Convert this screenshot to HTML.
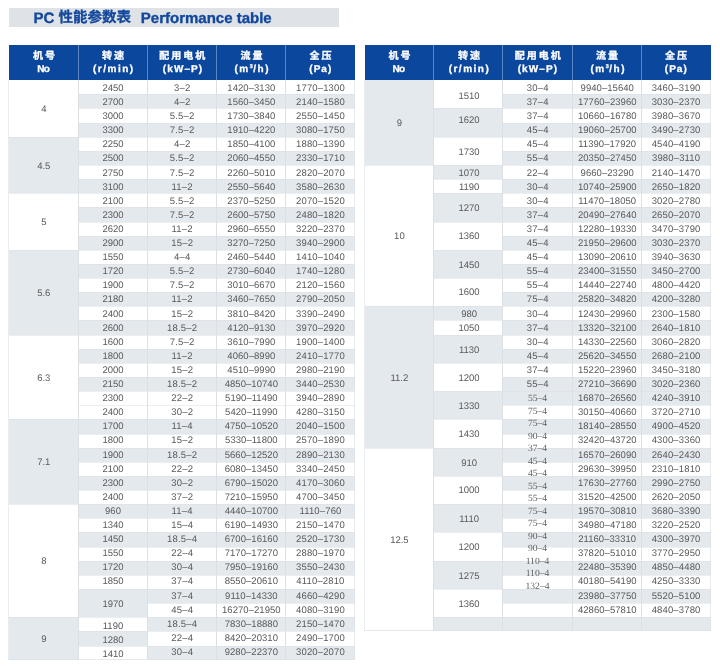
<!DOCTYPE html>
<html lang="en"><head><meta charset="utf-8"><title>PC Performance table</title>
<style>
html,body{margin:0;padding:0;background:#fff;}
body{width:720px;height:669px;position:relative;overflow:hidden;font-family:"Liberation Sans",sans-serif;}
#pg{position:absolute;left:0;top:0;width:720px;height:669px;will-change:transform;text-rendering:geometricPrecision;}
.b{position:absolute;}
.cj{position:absolute;overflow:visible;font-family:"Liberation Sans","Noto Sans CJK SC",sans-serif;}
.c{position:absolute;text-align:center;font-size:9.5px;color:#58595b;white-space:nowrap;}
.g{background:#e4e9ed;}
.w{background:#fff;}
.h{position:absolute;background:#0b479d;}
.ht{position:absolute;color:#fff;font-weight:bold;font-size:10px;-webkit-text-stroke:.3px #fff;text-align:center;white-space:nowrap;line-height:10px;}
.hc{text-align:left;letter-spacing:2px;}
.v{position:absolute;width:1px;background:#dce0e4;}
.hl{position:absolute;height:1px;background:#dce0e4;opacity:.55}
.s{position:absolute;font-family:"Liberation Serif",serif;font-size:9.6px;color:#5e5f61;text-align:center;white-space:nowrap;}
.t{position:absolute;color:#12479c;font-weight:bold;font-size:15px;-webkit-text-stroke:.35px #12479c;white-space:nowrap;line-height:18px;}
</style></head><body><div id="pg">

<div class="b" style="left:9px;top:8px;width:330px;height:19px;background:#dfe3e8"></div>
<div class="t" style="left:33.4px;top:10px">PC</div>
<div class="t cj" style="left:58.60px;top:8.8px;font-size:14.5px">性能参数表</div>
<div class="t" style="left:140.8px;top:10px">Performance table</div>
<div class="h" style="left:9px;top:45px;width:346px;height:35px"></div>
<div class="v" style="left:78px;top:45px;height:35px;background:#5c86c4"></div>
<div class="v" style="left:147px;top:45px;height:35px;background:#5c86c4"></div>
<div class="v" style="left:216px;top:45px;height:35px;background:#5c86c4"></div>
<div class="v" style="left:285px;top:45px;height:35px;background:#5c86c4"></div>
<div class="ht cj hc" style="left:32.90px;top:52.30px">机号</div>
<div class="ht" style="left:-6.5px;width:100px;top:64.6px;letter-spacing:-0.6px;text-indent:-0.6px">No</div>
<div class="ht cj hc" style="left:102.10px;top:52.30px">转速</div>
<div class="ht" style="left:63.1px;width:100px;top:64.6px;letter-spacing:1.5px;text-indent:1.5px">(r/min)</div>
<div class="ht cj hc" style="left:159.20px;top:52.30px">配用电机</div>
<div class="ht" style="left:132.5px;width:100px;top:64.6px;letter-spacing:1.1px;text-indent:1.1px">(kW–P)</div>
<div class="ht cj hc" style="left:240.40px;top:52.30px">流量</div>
<div class="ht" style="left:201.5px;width:100px;top:64.6px;letter-spacing:1.55px;text-indent:1.6px">(m<sup style="font-size:5.5px;line-height:0;vertical-align:4px;letter-spacing:.4px">3</sup>/h)</div>
<div class="ht cj hc" style="left:309.60px;top:52.30px">全压</div>
<div class="ht" style="left:270.3px;width:100px;top:64.6px;letter-spacing:1.0px;text-indent:1.0px">(Pa)</div>
<div class="b g" style="left:147px;top:94px;width:208px;height:14px"></div>
<div class="b g" style="left:147px;top:123px;width:208px;height:14px"></div>
<div class="b g" style="left:147px;top:151px;width:208px;height:14px"></div>
<div class="b g" style="left:147px;top:179px;width:208px;height:14px"></div>
<div class="b g" style="left:147px;top:207px;width:208px;height:15px"></div>
<div class="b g" style="left:147px;top:236px;width:208px;height:14px"></div>
<div class="b g" style="left:147px;top:264px;width:208px;height:14px"></div>
<div class="b g" style="left:147px;top:292px;width:208px;height:14px"></div>
<div class="b g" style="left:147px;top:320px;width:208px;height:15px"></div>
<div class="b g" style="left:147px;top:349px;width:208px;height:14px"></div>
<div class="b g" style="left:147px;top:377px;width:208px;height:14px"></div>
<div class="b g" style="left:147px;top:419px;width:208px;height:15px"></div>
<div class="b g" style="left:147px;top:448px;width:208px;height:14px"></div>
<div class="b g" style="left:147px;top:476px;width:208px;height:14px"></div>
<div class="b g" style="left:147px;top:504px;width:208px;height:14px"></div>
<div class="b g" style="left:147px;top:532px;width:208px;height:15px"></div>
<div class="b g" style="left:147px;top:561px;width:208px;height:14px"></div>
<div class="b g" style="left:147px;top:589px;width:208px;height:14px"></div>
<div class="b g" style="left:147px;top:617px;width:208px;height:14px"></div>
<div class="b g" style="left:147px;top:646px;width:208px;height:14px"></div>
<div class="c" style="left:3.80px;top:80px;width:80px;height:57px;line-height:60.6px">4</div>
<div class="c" style="left:73.00px;top:81px;width:80px;line-height:15px">2450</div>
<div class="c" style="left:142.20px;top:81px;width:80px;line-height:15px;letter-spacing:0.2px">3–2</div>
<div class="c" style="left:211.38px;top:81px;width:80px;line-height:15px;letter-spacing:0.05px">1420–3130</div>
<div class="c" style="left:280.47px;top:81px;width:80px;line-height:15px;letter-spacing:0.15px">1770–1300</div>
<div class="b g" style="left:78px;top:94px;width:69px;height:14px"></div>
<div class="c" style="left:73.00px;top:95px;width:80px;line-height:15px">2700</div>
<div class="c" style="left:142.20px;top:95px;width:80px;line-height:15px;letter-spacing:0.2px">4–2</div>
<div class="c" style="left:211.38px;top:95px;width:80px;line-height:15px;letter-spacing:0.05px">1560–3450</div>
<div class="c" style="left:280.47px;top:95px;width:80px;line-height:15px;letter-spacing:0.15px">2140–1580</div>
<div class="c" style="left:73.00px;top:109px;width:80px;line-height:15px">3000</div>
<div class="c" style="left:142.20px;top:109px;width:80px;line-height:15px;letter-spacing:0.2px">5.5–2</div>
<div class="c" style="left:211.38px;top:109px;width:80px;line-height:15px;letter-spacing:0.05px">1730–3840</div>
<div class="c" style="left:280.47px;top:109px;width:80px;line-height:15px;letter-spacing:0.15px">2550–1450</div>
<div class="b g" style="left:78px;top:123px;width:69px;height:14px"></div>
<div class="c" style="left:73.00px;top:123px;width:80px;line-height:15px">3300</div>
<div class="c" style="left:142.20px;top:123px;width:80px;line-height:15px;letter-spacing:0.2px">7.5–2</div>
<div class="c" style="left:211.38px;top:123px;width:80px;line-height:15px;letter-spacing:0.05px">1910–4220</div>
<div class="c" style="left:280.47px;top:123px;width:80px;line-height:15px;letter-spacing:0.15px">3080–1750</div>
<div class="b g" style="left:9px;top:137px;width:69px;height:56px"></div>
<div class="c" style="left:3.80px;top:137px;width:80px;height:56px;line-height:59.6px">4.5</div>
<div class="c" style="left:73.00px;top:137px;width:80px;line-height:15px">2250</div>
<div class="c" style="left:142.20px;top:137px;width:80px;line-height:15px;letter-spacing:0.2px">4–2</div>
<div class="c" style="left:211.38px;top:137px;width:80px;line-height:15px;letter-spacing:0.05px">1850–4100</div>
<div class="c" style="left:280.47px;top:137px;width:80px;line-height:15px;letter-spacing:0.15px">1880–1390</div>
<div class="b g" style="left:78px;top:151px;width:69px;height:14px"></div>
<div class="c" style="left:73.00px;top:151px;width:80px;line-height:15px">2500</div>
<div class="c" style="left:142.20px;top:151px;width:80px;line-height:15px;letter-spacing:0.2px">5.5–2</div>
<div class="c" style="left:211.38px;top:151px;width:80px;line-height:15px;letter-spacing:0.05px">2060–4550</div>
<div class="c" style="left:280.47px;top:151px;width:80px;line-height:15px;letter-spacing:0.15px">2330–1710</div>
<div class="c" style="left:73.00px;top:166px;width:80px;line-height:15px">2750</div>
<div class="c" style="left:142.20px;top:166px;width:80px;line-height:15px;letter-spacing:0.2px">7.5–2</div>
<div class="c" style="left:211.38px;top:166px;width:80px;line-height:15px;letter-spacing:0.05px">2260–5010</div>
<div class="c" style="left:280.47px;top:166px;width:80px;line-height:15px;letter-spacing:0.15px">2820–2070</div>
<div class="b g" style="left:78px;top:179px;width:69px;height:14px"></div>
<div class="c" style="left:73.00px;top:180px;width:80px;line-height:15px">3100</div>
<div class="c" style="left:142.20px;top:180px;width:80px;line-height:15px;letter-spacing:0.2px">11–2</div>
<div class="c" style="left:211.38px;top:180px;width:80px;line-height:15px;letter-spacing:0.05px">2550–5640</div>
<div class="c" style="left:280.47px;top:180px;width:80px;line-height:15px;letter-spacing:0.15px">3580–2630</div>
<div class="c" style="left:3.80px;top:193px;width:80px;height:57px;line-height:60.6px">5</div>
<div class="c" style="left:73.00px;top:194px;width:80px;line-height:15px">2100</div>
<div class="c" style="left:142.20px;top:194px;width:80px;line-height:15px;letter-spacing:0.2px">5.5–2</div>
<div class="c" style="left:211.38px;top:194px;width:80px;line-height:15px;letter-spacing:0.05px">2370–5250</div>
<div class="c" style="left:280.47px;top:194px;width:80px;line-height:15px;letter-spacing:0.15px">2070–1520</div>
<div class="b g" style="left:78px;top:207px;width:69px;height:15px"></div>
<div class="c" style="left:73.00px;top:208px;width:80px;line-height:15px">2300</div>
<div class="c" style="left:142.20px;top:208px;width:80px;line-height:15px;letter-spacing:0.2px">7.5–2</div>
<div class="c" style="left:211.38px;top:208px;width:80px;line-height:15px;letter-spacing:0.05px">2600–5750</div>
<div class="c" style="left:280.47px;top:208px;width:80px;line-height:15px;letter-spacing:0.15px">2480–1820</div>
<div class="c" style="left:73.00px;top:222px;width:80px;line-height:15px">2620</div>
<div class="c" style="left:142.20px;top:222px;width:80px;line-height:15px;letter-spacing:0.2px">11–2</div>
<div class="c" style="left:211.38px;top:222px;width:80px;line-height:15px;letter-spacing:0.05px">2960–6550</div>
<div class="c" style="left:280.47px;top:222px;width:80px;line-height:15px;letter-spacing:0.15px">3220–2370</div>
<div class="b g" style="left:78px;top:236px;width:69px;height:14px"></div>
<div class="c" style="left:73.00px;top:236px;width:80px;line-height:15px">2900</div>
<div class="c" style="left:142.20px;top:236px;width:80px;line-height:15px;letter-spacing:0.2px">15–2</div>
<div class="c" style="left:211.38px;top:236px;width:80px;line-height:15px;letter-spacing:0.05px">3270–7250</div>
<div class="c" style="left:280.47px;top:236px;width:80px;line-height:15px;letter-spacing:0.15px">3940–2900</div>
<div class="b g" style="left:9px;top:250px;width:69px;height:85px"></div>
<div class="c" style="left:3.80px;top:250px;width:80px;height:85px;line-height:88.6px">5.6</div>
<div class="c" style="left:73.00px;top:250px;width:80px;line-height:15px">1550</div>
<div class="c" style="left:142.20px;top:250px;width:80px;line-height:15px;letter-spacing:0.2px">4–4</div>
<div class="c" style="left:211.38px;top:250px;width:80px;line-height:15px;letter-spacing:0.05px">2460–5440</div>
<div class="c" style="left:280.47px;top:250px;width:80px;line-height:15px;letter-spacing:0.15px">1410–1040</div>
<div class="b g" style="left:78px;top:264px;width:69px;height:14px"></div>
<div class="c" style="left:73.00px;top:264px;width:80px;line-height:15px">1720</div>
<div class="c" style="left:142.20px;top:264px;width:80px;line-height:15px;letter-spacing:0.2px">5.5–2</div>
<div class="c" style="left:211.38px;top:264px;width:80px;line-height:15px;letter-spacing:0.05px">2730–6040</div>
<div class="c" style="left:280.47px;top:264px;width:80px;line-height:15px;letter-spacing:0.15px">1740–1280</div>
<div class="c" style="left:73.00px;top:278px;width:80px;line-height:15px">1900</div>
<div class="c" style="left:142.20px;top:278px;width:80px;line-height:15px;letter-spacing:0.2px">7.5–2</div>
<div class="c" style="left:211.38px;top:278px;width:80px;line-height:15px;letter-spacing:0.05px">3010–6670</div>
<div class="c" style="left:280.47px;top:278px;width:80px;line-height:15px;letter-spacing:0.15px">2120–1560</div>
<div class="b g" style="left:78px;top:292px;width:69px;height:14px"></div>
<div class="c" style="left:73.00px;top:292px;width:80px;line-height:15px">2180</div>
<div class="c" style="left:142.20px;top:292px;width:80px;line-height:15px;letter-spacing:0.2px">11–2</div>
<div class="c" style="left:211.38px;top:292px;width:80px;line-height:15px;letter-spacing:0.05px">3460–7650</div>
<div class="c" style="left:280.47px;top:292px;width:80px;line-height:15px;letter-spacing:0.15px">2790–2050</div>
<div class="c" style="left:73.00px;top:307px;width:80px;line-height:15px">2400</div>
<div class="c" style="left:142.20px;top:307px;width:80px;line-height:15px;letter-spacing:0.2px">15–2</div>
<div class="c" style="left:211.38px;top:307px;width:80px;line-height:15px;letter-spacing:0.05px">3810–8420</div>
<div class="c" style="left:280.47px;top:307px;width:80px;line-height:15px;letter-spacing:0.15px">3390–2490</div>
<div class="b g" style="left:78px;top:320px;width:69px;height:15px"></div>
<div class="c" style="left:73.00px;top:321px;width:80px;line-height:15px">2600</div>
<div class="c" style="left:142.20px;top:321px;width:80px;line-height:15px;letter-spacing:0.2px">18.5–2</div>
<div class="c" style="left:211.38px;top:321px;width:80px;line-height:15px;letter-spacing:0.05px">4120–9130</div>
<div class="c" style="left:280.47px;top:321px;width:80px;line-height:15px;letter-spacing:0.15px">3970–2920</div>
<div class="c" style="left:3.80px;top:335px;width:80px;height:84px;line-height:87.6px">6.3</div>
<div class="c" style="left:73.00px;top:335px;width:80px;line-height:15px">1600</div>
<div class="c" style="left:142.20px;top:335px;width:80px;line-height:15px;letter-spacing:0.2px">7.5–2</div>
<div class="c" style="left:211.38px;top:335px;width:80px;line-height:15px;letter-spacing:0.05px">3610–7990</div>
<div class="c" style="left:280.47px;top:335px;width:80px;line-height:15px;letter-spacing:0.15px">1900–1400</div>
<div class="b g" style="left:78px;top:349px;width:69px;height:14px"></div>
<div class="c" style="left:73.00px;top:349px;width:80px;line-height:15px">1800</div>
<div class="c" style="left:142.20px;top:349px;width:80px;line-height:15px;letter-spacing:0.2px">11–2</div>
<div class="c" style="left:211.38px;top:349px;width:80px;line-height:15px;letter-spacing:0.05px">4060–8990</div>
<div class="c" style="left:280.47px;top:349px;width:80px;line-height:15px;letter-spacing:0.15px">2410–1770</div>
<div class="c" style="left:73.00px;top:363px;width:80px;line-height:15px">2000</div>
<div class="c" style="left:142.20px;top:363px;width:80px;line-height:15px;letter-spacing:0.2px">15–2</div>
<div class="c" style="left:211.38px;top:363px;width:80px;line-height:15px;letter-spacing:0.05px">4510–9990</div>
<div class="c" style="left:280.47px;top:363px;width:80px;line-height:15px;letter-spacing:0.15px">2980–2190</div>
<div class="b g" style="left:78px;top:377px;width:69px;height:14px"></div>
<div class="c" style="left:73.00px;top:377px;width:80px;line-height:15px">2150</div>
<div class="c" style="left:142.20px;top:377px;width:80px;line-height:15px;letter-spacing:0.2px">18.5–2</div>
<div class="c" style="left:211.38px;top:377px;width:80px;line-height:15px;letter-spacing:0.05px">4850–10740</div>
<div class="c" style="left:280.47px;top:377px;width:80px;line-height:15px;letter-spacing:0.15px">3440–2530</div>
<div class="c" style="left:73.00px;top:391px;width:80px;line-height:15px">2300</div>
<div class="c" style="left:142.20px;top:391px;width:80px;line-height:15px;letter-spacing:0.2px">22–2</div>
<div class="c" style="left:211.38px;top:391px;width:80px;line-height:15px;letter-spacing:0.05px">5190–11490</div>
<div class="c" style="left:280.47px;top:391px;width:80px;line-height:15px;letter-spacing:0.15px">3940–2890</div>
<div class="c" style="left:73.00px;top:405px;width:80px;line-height:15px">2400</div>
<div class="c" style="left:142.20px;top:405px;width:80px;line-height:15px;letter-spacing:0.2px">30–2</div>
<div class="c" style="left:211.38px;top:405px;width:80px;line-height:15px;letter-spacing:0.05px">5420–11990</div>
<div class="c" style="left:280.47px;top:405px;width:80px;line-height:15px;letter-spacing:0.15px">4280–3150</div>
<div class="b g" style="left:9px;top:419px;width:69px;height:85px"></div>
<div class="c" style="left:3.80px;top:419px;width:80px;height:85px;line-height:88.6px">7.1</div>
<div class="b g" style="left:78px;top:419px;width:69px;height:15px"></div>
<div class="c" style="left:73.00px;top:419px;width:80px;line-height:15px">1700</div>
<div class="c" style="left:142.20px;top:419px;width:80px;line-height:15px;letter-spacing:0.2px">11–4</div>
<div class="c" style="left:211.38px;top:419px;width:80px;line-height:15px;letter-spacing:0.05px">4750–10520</div>
<div class="c" style="left:280.47px;top:419px;width:80px;line-height:15px;letter-spacing:0.15px">2040–1500</div>
<div class="c" style="left:73.00px;top:433px;width:80px;line-height:15px">1800</div>
<div class="c" style="left:142.20px;top:433px;width:80px;line-height:15px;letter-spacing:0.2px">15–2</div>
<div class="c" style="left:211.38px;top:433px;width:80px;line-height:15px;letter-spacing:0.05px">5330–11800</div>
<div class="c" style="left:280.47px;top:433px;width:80px;line-height:15px;letter-spacing:0.15px">2570–1890</div>
<div class="b g" style="left:78px;top:448px;width:69px;height:14px"></div>
<div class="c" style="left:73.00px;top:448px;width:80px;line-height:15px">1900</div>
<div class="c" style="left:142.20px;top:448px;width:80px;line-height:15px;letter-spacing:0.2px">18.5–2</div>
<div class="c" style="left:211.38px;top:448px;width:80px;line-height:15px;letter-spacing:0.05px">5660–12520</div>
<div class="c" style="left:280.47px;top:448px;width:80px;line-height:15px;letter-spacing:0.15px">2890–2130</div>
<div class="c" style="left:73.00px;top:462px;width:80px;line-height:15px">2100</div>
<div class="c" style="left:142.20px;top:462px;width:80px;line-height:15px;letter-spacing:0.2px">22–2</div>
<div class="c" style="left:211.38px;top:462px;width:80px;line-height:15px;letter-spacing:0.05px">6080–13450</div>
<div class="c" style="left:280.47px;top:462px;width:80px;line-height:15px;letter-spacing:0.15px">3340–2450</div>
<div class="b g" style="left:78px;top:476px;width:69px;height:14px"></div>
<div class="c" style="left:73.00px;top:476px;width:80px;line-height:15px">2300</div>
<div class="c" style="left:142.20px;top:476px;width:80px;line-height:15px;letter-spacing:0.2px">30–2</div>
<div class="c" style="left:211.38px;top:476px;width:80px;line-height:15px;letter-spacing:0.05px">6790–15020</div>
<div class="c" style="left:280.47px;top:476px;width:80px;line-height:15px;letter-spacing:0.15px">4170–3060</div>
<div class="c" style="left:73.00px;top:490px;width:80px;line-height:15px">2400</div>
<div class="c" style="left:142.20px;top:490px;width:80px;line-height:15px;letter-spacing:0.2px">37–2</div>
<div class="c" style="left:211.38px;top:490px;width:80px;line-height:15px;letter-spacing:0.05px">7210–15950</div>
<div class="c" style="left:280.47px;top:490px;width:80px;line-height:15px;letter-spacing:0.15px">4700–3450</div>
<div class="c" style="left:3.80px;top:504px;width:80px;height:113px;line-height:116.6px">8</div>
<div class="b g" style="left:78px;top:504px;width:69px;height:14px"></div>
<div class="c" style="left:73.00px;top:504px;width:80px;line-height:15px">960</div>
<div class="c" style="left:142.20px;top:504px;width:80px;line-height:15px;letter-spacing:0.2px">11–4</div>
<div class="c" style="left:211.38px;top:504px;width:80px;line-height:15px;letter-spacing:0.05px">4440–10700</div>
<div class="c" style="left:280.47px;top:504px;width:80px;line-height:15px;letter-spacing:0.15px">1110–760</div>
<div class="c" style="left:73.00px;top:518px;width:80px;line-height:15px">1340</div>
<div class="c" style="left:142.20px;top:518px;width:80px;line-height:15px;letter-spacing:0.2px">15–4</div>
<div class="c" style="left:211.38px;top:518px;width:80px;line-height:15px;letter-spacing:0.05px">6190–14930</div>
<div class="c" style="left:280.47px;top:518px;width:80px;line-height:15px;letter-spacing:0.15px">2150–1470</div>
<div class="b g" style="left:78px;top:532px;width:69px;height:15px"></div>
<div class="c" style="left:73.00px;top:532px;width:80px;line-height:15px">1450</div>
<div class="c" style="left:142.20px;top:532px;width:80px;line-height:15px;letter-spacing:0.2px">18.5–4</div>
<div class="c" style="left:211.38px;top:532px;width:80px;line-height:15px;letter-spacing:0.05px">6700–16160</div>
<div class="c" style="left:280.47px;top:532px;width:80px;line-height:15px;letter-spacing:0.15px">2520–1730</div>
<div class="c" style="left:73.00px;top:546px;width:80px;line-height:15px">1550</div>
<div class="c" style="left:142.20px;top:546px;width:80px;line-height:15px;letter-spacing:0.2px">22–4</div>
<div class="c" style="left:211.38px;top:546px;width:80px;line-height:15px;letter-spacing:0.05px">7170–17270</div>
<div class="c" style="left:280.47px;top:546px;width:80px;line-height:15px;letter-spacing:0.15px">2880–1970</div>
<div class="b g" style="left:78px;top:561px;width:69px;height:14px"></div>
<div class="c" style="left:73.00px;top:560px;width:80px;line-height:15px">1720</div>
<div class="c" style="left:142.20px;top:560px;width:80px;line-height:15px;letter-spacing:0.2px">30–4</div>
<div class="c" style="left:211.38px;top:560px;width:80px;line-height:15px;letter-spacing:0.05px">7950–19160</div>
<div class="c" style="left:280.47px;top:560px;width:80px;line-height:15px;letter-spacing:0.15px">3550–2430</div>
<div class="c" style="left:73.00px;top:574px;width:80px;line-height:15px">1850</div>
<div class="c" style="left:142.20px;top:574px;width:80px;line-height:15px;letter-spacing:0.2px">37–4</div>
<div class="c" style="left:211.38px;top:574px;width:80px;line-height:15px;letter-spacing:0.05px">8550–20610</div>
<div class="c" style="left:280.47px;top:574px;width:80px;line-height:15px;letter-spacing:0.15px">4110–2810</div>
<div class="b g" style="left:78px;top:589px;width:69px;height:28px"></div>
<div class="c" style="left:73.00px;top:597px;width:80px;line-height:15px">1970</div>
<div class="c" style="left:142.20px;top:589px;width:80px;line-height:15px;letter-spacing:0.2px">37–4</div>
<div class="c" style="left:211.38px;top:589px;width:80px;line-height:15px;letter-spacing:0.05px">9110–14330</div>
<div class="c" style="left:280.47px;top:589px;width:80px;line-height:15px;letter-spacing:0.15px">4660–4290</div>
<div class="c" style="left:142.20px;top:603px;width:80px;line-height:15px;letter-spacing:0.2px">45–4</div>
<div class="c" style="left:211.38px;top:603px;width:80px;line-height:15px;letter-spacing:0.05px">16270–21950</div>
<div class="c" style="left:280.47px;top:603px;width:80px;line-height:15px;letter-spacing:0.15px">4080–3190</div>
<div class="b g" style="left:9px;top:617px;width:69px;height:43px"></div>
<div class="c" style="left:3.80px;top:617px;width:80px;height:43px;line-height:46.6px">9</div>
<div class="c" style="left:73.00px;top:619px;width:80px;line-height:15px">1190</div>
<div class="c" style="left:142.20px;top:617px;width:80px;line-height:15px;letter-spacing:0.2px">18.5–4</div>
<div class="c" style="left:211.38px;top:617px;width:80px;line-height:15px;letter-spacing:0.05px">7830–18880</div>
<div class="c" style="left:280.47px;top:617px;width:80px;line-height:15px;letter-spacing:0.15px">2150–1470</div>
<div class="b g" style="left:78px;top:631px;width:69px;height:15px"></div>
<div class="c" style="left:73.00px;top:633px;width:80px;line-height:15px">1280</div>
<div class="c" style="left:142.20px;top:631px;width:80px;line-height:15px;letter-spacing:0.2px">22–4</div>
<div class="c" style="left:211.38px;top:631px;width:80px;line-height:15px;letter-spacing:0.05px">8420–20310</div>
<div class="c" style="left:280.47px;top:631px;width:80px;line-height:15px;letter-spacing:0.15px">2490–1700</div>
<div class="c" style="left:73.00px;top:647px;width:80px;line-height:15px">1410</div>
<div class="c" style="left:142.20px;top:645px;width:80px;line-height:15px;letter-spacing:0.2px">30–4</div>
<div class="c" style="left:211.38px;top:645px;width:80px;line-height:15px;letter-spacing:0.05px">9280–22370</div>
<div class="c" style="left:280.47px;top:645px;width:80px;line-height:15px;letter-spacing:0.15px">3020–2070</div>
<div class="hl" style="left:147px;top:94px;width:208px"></div>
<div class="hl" style="left:147px;top:108px;width:208px"></div>
<div class="hl" style="left:147px;top:123px;width:208px"></div>
<div class="hl" style="left:147px;top:137px;width:208px"></div>
<div class="hl" style="left:147px;top:151px;width:208px"></div>
<div class="hl" style="left:147px;top:165px;width:208px"></div>
<div class="hl" style="left:147px;top:179px;width:208px"></div>
<div class="hl" style="left:147px;top:193px;width:208px"></div>
<div class="hl" style="left:147px;top:207px;width:208px"></div>
<div class="hl" style="left:147px;top:222px;width:208px"></div>
<div class="hl" style="left:147px;top:236px;width:208px"></div>
<div class="hl" style="left:147px;top:250px;width:208px"></div>
<div class="hl" style="left:147px;top:264px;width:208px"></div>
<div class="hl" style="left:147px;top:278px;width:208px"></div>
<div class="hl" style="left:147px;top:292px;width:208px"></div>
<div class="hl" style="left:147px;top:306px;width:208px"></div>
<div class="hl" style="left:147px;top:320px;width:208px"></div>
<div class="hl" style="left:147px;top:335px;width:208px"></div>
<div class="hl" style="left:147px;top:349px;width:208px"></div>
<div class="hl" style="left:147px;top:363px;width:208px"></div>
<div class="hl" style="left:147px;top:377px;width:208px"></div>
<div class="hl" style="left:147px;top:391px;width:208px"></div>
<div class="hl" style="left:147px;top:405px;width:208px"></div>
<div class="hl" style="left:147px;top:419px;width:208px"></div>
<div class="hl" style="left:147px;top:434px;width:208px"></div>
<div class="hl" style="left:147px;top:448px;width:208px"></div>
<div class="hl" style="left:147px;top:462px;width:208px"></div>
<div class="hl" style="left:147px;top:476px;width:208px"></div>
<div class="hl" style="left:147px;top:490px;width:208px"></div>
<div class="hl" style="left:147px;top:504px;width:208px"></div>
<div class="hl" style="left:147px;top:518px;width:208px"></div>
<div class="hl" style="left:147px;top:532px;width:208px"></div>
<div class="hl" style="left:147px;top:547px;width:208px"></div>
<div class="hl" style="left:147px;top:561px;width:208px"></div>
<div class="hl" style="left:147px;top:575px;width:208px"></div>
<div class="hl" style="left:147px;top:589px;width:208px"></div>
<div class="hl" style="left:147px;top:603px;width:208px"></div>
<div class="hl" style="left:147px;top:617px;width:208px"></div>
<div class="hl" style="left:147px;top:631px;width:208px"></div>
<div class="hl" style="left:147px;top:646px;width:208px"></div>
<div class="hl" style="left:78px;top:94px;width:69px"></div>
<div class="hl" style="left:78px;top:108px;width:69px"></div>
<div class="hl" style="left:78px;top:123px;width:69px"></div>
<div class="hl" style="left:78px;top:137px;width:69px"></div>
<div class="hl" style="left:78px;top:151px;width:69px"></div>
<div class="hl" style="left:78px;top:165px;width:69px"></div>
<div class="hl" style="left:78px;top:179px;width:69px"></div>
<div class="hl" style="left:78px;top:193px;width:69px"></div>
<div class="hl" style="left:78px;top:207px;width:69px"></div>
<div class="hl" style="left:78px;top:222px;width:69px"></div>
<div class="hl" style="left:78px;top:236px;width:69px"></div>
<div class="hl" style="left:78px;top:250px;width:69px"></div>
<div class="hl" style="left:78px;top:264px;width:69px"></div>
<div class="hl" style="left:78px;top:278px;width:69px"></div>
<div class="hl" style="left:78px;top:292px;width:69px"></div>
<div class="hl" style="left:78px;top:306px;width:69px"></div>
<div class="hl" style="left:78px;top:320px;width:69px"></div>
<div class="hl" style="left:78px;top:335px;width:69px"></div>
<div class="hl" style="left:78px;top:349px;width:69px"></div>
<div class="hl" style="left:78px;top:363px;width:69px"></div>
<div class="hl" style="left:78px;top:377px;width:69px"></div>
<div class="hl" style="left:78px;top:391px;width:69px"></div>
<div class="hl" style="left:78px;top:405px;width:69px"></div>
<div class="hl" style="left:78px;top:419px;width:69px"></div>
<div class="hl" style="left:78px;top:434px;width:69px"></div>
<div class="hl" style="left:78px;top:448px;width:69px"></div>
<div class="hl" style="left:78px;top:462px;width:69px"></div>
<div class="hl" style="left:78px;top:476px;width:69px"></div>
<div class="hl" style="left:78px;top:490px;width:69px"></div>
<div class="hl" style="left:78px;top:504px;width:69px"></div>
<div class="hl" style="left:78px;top:518px;width:69px"></div>
<div class="hl" style="left:78px;top:532px;width:69px"></div>
<div class="hl" style="left:78px;top:547px;width:69px"></div>
<div class="hl" style="left:78px;top:561px;width:69px"></div>
<div class="hl" style="left:78px;top:575px;width:69px"></div>
<div class="hl" style="left:78px;top:589px;width:69px"></div>
<div class="hl" style="left:78px;top:617px;width:69px"></div>
<div class="hl" style="left:78px;top:631px;width:69px"></div>
<div class="hl" style="left:78px;top:646px;width:69px"></div>
<div class="hl" style="left:9px;top:137px;width:69px"></div>
<div class="hl" style="left:9px;top:193px;width:69px"></div>
<div class="hl" style="left:9px;top:250px;width:69px"></div>
<div class="hl" style="left:9px;top:335px;width:69px"></div>
<div class="hl" style="left:9px;top:419px;width:69px"></div>
<div class="hl" style="left:9px;top:504px;width:69px"></div>
<div class="hl" style="left:9px;top:617px;width:69px"></div>
<div class="hl" style="left:9px;top:659px;width:346px;opacity:.7"></div>
<div class="v" style="left:78px;top:80px;height:580px"></div>
<div class="v" style="left:147px;top:80px;height:580px"></div>
<div class="v" style="left:216px;top:80px;height:580px"></div>
<div class="v" style="left:285px;top:80px;height:580px"></div>
<div class="v" style="left:8px;top:80px;height:580px;opacity:.6"></div>
<div class="v" style="left:354px;top:80px;height:580px;opacity:.6"></div>
<div class="h" style="left:365px;top:45px;width:346px;height:35px"></div>
<div class="v" style="left:433px;top:45px;height:35px;background:#5c86c4"></div>
<div class="v" style="left:502px;top:45px;height:35px;background:#5c86c4"></div>
<div class="v" style="left:572px;top:45px;height:35px;background:#5c86c4"></div>
<div class="v" style="left:641px;top:45px;height:35px;background:#5c86c4"></div>
<div class="ht cj hc" style="left:388.50px;top:52.30px">机号</div>
<div class="ht" style="left:348.8px;width:100px;top:64.6px;letter-spacing:-0.6px;text-indent:-0.6px">No</div>
<div class="ht cj hc" style="left:458.00px;top:52.30px">转速</div>
<div class="ht" style="left:418.7px;width:100px;top:64.6px;letter-spacing:1.5px;text-indent:1.5px">(r/min)</div>
<div class="ht cj hc" style="left:514.80px;top:52.30px">配用电机</div>
<div class="ht" style="left:487.4px;width:100px;top:64.6px;letter-spacing:1.1px;text-indent:1.1px">(kW–P)</div>
<div class="ht cj hc" style="left:596.00px;top:52.30px">流量</div>
<div class="ht" style="left:557.5px;width:100px;top:64.6px;letter-spacing:1.55px;text-indent:1.6px">(m<sup style="font-size:5.5px;line-height:0;vertical-align:4px;letter-spacing:.4px">3</sup>/h)</div>
<div class="ht cj hc" style="left:665.10px;top:52.30px">全压</div>
<div class="ht" style="left:625.8px;width:100px;top:64.6px;letter-spacing:1.0px;text-indent:1.0px">(Pa)</div>
<div class="b g" style="left:502px;top:94px;width:209px;height:14px"></div>
<div class="b g" style="left:502px;top:123px;width:209px;height:14px"></div>
<div class="b g" style="left:502px;top:151px;width:209px;height:14px"></div>
<div class="b g" style="left:502px;top:179px;width:209px;height:14px"></div>
<div class="b g" style="left:502px;top:207px;width:209px;height:15px"></div>
<div class="b g" style="left:502px;top:236px;width:209px;height:14px"></div>
<div class="b g" style="left:502px;top:264px;width:209px;height:14px"></div>
<div class="b g" style="left:502px;top:292px;width:209px;height:14px"></div>
<div class="b g" style="left:502px;top:320px;width:209px;height:15px"></div>
<div class="b g" style="left:502px;top:349px;width:209px;height:14px"></div>
<div class="b g" style="left:502px;top:377px;width:209px;height:14px"></div>
<div class="b g" style="left:502px;top:391px;width:209px;height:14px"></div>
<div class="b g" style="left:502px;top:419px;width:209px;height:15px"></div>
<div class="b g" style="left:502px;top:448px;width:209px;height:14px"></div>
<div class="b g" style="left:502px;top:476px;width:209px;height:14px"></div>
<div class="b g" style="left:502px;top:504px;width:209px;height:14px"></div>
<div class="b g" style="left:502px;top:532px;width:209px;height:15px"></div>
<div class="b g" style="left:502px;top:561px;width:209px;height:14px"></div>
<div class="b g" style="left:502px;top:589px;width:209px;height:14px"></div>
<div class="b g" style="left:502px;top:617px;width:209px;height:14px"></div>
<div class="b g" style="left:365px;top:80px;width:68px;height:85px"></div>
<div class="c" style="left:359.40px;top:80px;width:80px;height:85px;line-height:88.6px">9</div>
<div class="c" style="left:429.10px;top:89px;width:80px;line-height:15px">1510</div>
<div class="c" style="left:497.80px;top:81px;width:80px;line-height:15px;letter-spacing:0.2px">30–4</div>
<div class="c" style="left:567.23px;top:81px;width:80px;line-height:15px;letter-spacing:0.05px">9940–15640</div>
<div class="c" style="left:636.08px;top:81px;width:80px;line-height:15px;letter-spacing:0.15px">3460–3190</div>
<div class="c" style="left:497.80px;top:95px;width:80px;line-height:15px;letter-spacing:0.2px">37–4</div>
<div class="c" style="left:567.23px;top:95px;width:80px;line-height:15px;letter-spacing:0.05px">17760–23960</div>
<div class="c" style="left:636.08px;top:95px;width:80px;line-height:15px;letter-spacing:0.15px">3030–2370</div>
<div class="b g" style="left:433px;top:108px;width:69px;height:29px"></div>
<div class="c" style="left:429.10px;top:113px;width:80px;line-height:15px">1620</div>
<div class="c" style="left:497.80px;top:109px;width:80px;line-height:15px;letter-spacing:0.2px">37–4</div>
<div class="c" style="left:567.23px;top:109px;width:80px;line-height:15px;letter-spacing:0.05px">10660–16780</div>
<div class="c" style="left:636.08px;top:109px;width:80px;line-height:15px;letter-spacing:0.15px">3980–3670</div>
<div class="c" style="left:497.80px;top:123px;width:80px;line-height:15px;letter-spacing:0.2px">45–4</div>
<div class="c" style="left:567.23px;top:123px;width:80px;line-height:15px;letter-spacing:0.05px">19060–25700</div>
<div class="c" style="left:636.08px;top:123px;width:80px;line-height:15px;letter-spacing:0.15px">3490–2730</div>
<div class="c" style="left:429.10px;top:145px;width:80px;line-height:15px">1730</div>
<div class="c" style="left:497.80px;top:137px;width:80px;line-height:15px;letter-spacing:0.2px">45–4</div>
<div class="c" style="left:567.23px;top:137px;width:80px;line-height:15px;letter-spacing:0.05px">11390–17920</div>
<div class="c" style="left:636.08px;top:137px;width:80px;line-height:15px;letter-spacing:0.15px">4540–4190</div>
<div class="c" style="left:497.80px;top:151px;width:80px;line-height:15px;letter-spacing:0.2px">55–4</div>
<div class="c" style="left:567.23px;top:151px;width:80px;line-height:15px;letter-spacing:0.05px">20350–27450</div>
<div class="c" style="left:636.08px;top:151px;width:80px;line-height:15px;letter-spacing:0.15px">3980–3110</div>
<div class="c" style="left:359.40px;top:165px;width:80px;height:141px;line-height:144.6px">10</div>
<div class="b g" style="left:433px;top:165px;width:69px;height:14px"></div>
<div class="c" style="left:429.10px;top:166px;width:80px;line-height:15px">1070</div>
<div class="c" style="left:497.80px;top:166px;width:80px;line-height:15px;letter-spacing:0.2px">22–4</div>
<div class="c" style="left:567.23px;top:166px;width:80px;line-height:15px;letter-spacing:0.05px">9660–23290</div>
<div class="c" style="left:636.08px;top:166px;width:80px;line-height:15px;letter-spacing:0.15px">2140–1470</div>
<div class="c" style="left:429.10px;top:180px;width:80px;line-height:15px">1190</div>
<div class="c" style="left:497.80px;top:180px;width:80px;line-height:15px;letter-spacing:0.2px">30–4</div>
<div class="c" style="left:567.23px;top:180px;width:80px;line-height:15px;letter-spacing:0.05px">10740–25900</div>
<div class="c" style="left:636.08px;top:180px;width:80px;line-height:15px;letter-spacing:0.15px">2650–1820</div>
<div class="b g" style="left:433px;top:193px;width:69px;height:29px"></div>
<div class="c" style="left:429.10px;top:201px;width:80px;line-height:15px">1270</div>
<div class="c" style="left:497.80px;top:194px;width:80px;line-height:15px;letter-spacing:0.2px">30–4</div>
<div class="c" style="left:567.23px;top:194px;width:80px;line-height:15px;letter-spacing:0.05px">11470–18050</div>
<div class="c" style="left:636.08px;top:194px;width:80px;line-height:15px;letter-spacing:0.15px">3020–2780</div>
<div class="c" style="left:497.80px;top:208px;width:80px;line-height:15px;letter-spacing:0.2px">37–4</div>
<div class="c" style="left:567.23px;top:208px;width:80px;line-height:15px;letter-spacing:0.05px">20490–27640</div>
<div class="c" style="left:636.08px;top:208px;width:80px;line-height:15px;letter-spacing:0.15px">2650–2070</div>
<div class="c" style="left:429.10px;top:229px;width:80px;line-height:15px">1360</div>
<div class="c" style="left:497.80px;top:222px;width:80px;line-height:15px;letter-spacing:0.2px">37–4</div>
<div class="c" style="left:567.23px;top:222px;width:80px;line-height:15px;letter-spacing:0.05px">12280–19330</div>
<div class="c" style="left:636.08px;top:222px;width:80px;line-height:15px;letter-spacing:0.15px">3470–3790</div>
<div class="c" style="left:497.80px;top:236px;width:80px;line-height:15px;letter-spacing:0.2px">45–4</div>
<div class="c" style="left:567.23px;top:236px;width:80px;line-height:15px;letter-spacing:0.05px">21950–29600</div>
<div class="c" style="left:636.08px;top:236px;width:80px;line-height:15px;letter-spacing:0.15px">3030–2370</div>
<div class="b g" style="left:433px;top:250px;width:69px;height:28px"></div>
<div class="c" style="left:429.10px;top:258px;width:80px;line-height:15px">1450</div>
<div class="c" style="left:497.80px;top:250px;width:80px;line-height:15px;letter-spacing:0.2px">45–4</div>
<div class="c" style="left:567.23px;top:250px;width:80px;line-height:15px;letter-spacing:0.05px">13090–20610</div>
<div class="c" style="left:636.08px;top:250px;width:80px;line-height:15px;letter-spacing:0.15px">3940–3630</div>
<div class="c" style="left:497.80px;top:264px;width:80px;line-height:15px;letter-spacing:0.2px">55–4</div>
<div class="c" style="left:567.23px;top:264px;width:80px;line-height:15px;letter-spacing:0.05px">23400–31550</div>
<div class="c" style="left:636.08px;top:264px;width:80px;line-height:15px;letter-spacing:0.15px">3450–2700</div>
<div class="c" style="left:429.10px;top:285px;width:80px;line-height:15px">1600</div>
<div class="c" style="left:497.80px;top:278px;width:80px;line-height:15px;letter-spacing:0.2px">55–4</div>
<div class="c" style="left:567.23px;top:278px;width:80px;line-height:15px;letter-spacing:0.05px">14440–22740</div>
<div class="c" style="left:636.08px;top:278px;width:80px;line-height:15px;letter-spacing:0.15px">4800–4420</div>
<div class="c" style="left:497.80px;top:292px;width:80px;line-height:15px;letter-spacing:0.2px">75–4</div>
<div class="c" style="left:567.23px;top:292px;width:80px;line-height:15px;letter-spacing:0.05px">25820–34820</div>
<div class="c" style="left:636.08px;top:292px;width:80px;line-height:15px;letter-spacing:0.15px">4200–3280</div>
<div class="b g" style="left:365px;top:306px;width:68px;height:142px"></div>
<div class="c" style="left:359.40px;top:306px;width:80px;height:142px;line-height:145.6px">11.2</div>
<div class="b g" style="left:433px;top:306px;width:69px;height:14px"></div>
<div class="c" style="left:429.10px;top:307px;width:80px;line-height:15px">980</div>
<div class="c" style="left:497.80px;top:307px;width:80px;line-height:15px;letter-spacing:0.2px">30–4</div>
<div class="c" style="left:567.23px;top:307px;width:80px;line-height:15px;letter-spacing:0.05px">12430–29960</div>
<div class="c" style="left:636.08px;top:307px;width:80px;line-height:15px;letter-spacing:0.15px">2300–1580</div>
<div class="c" style="left:429.10px;top:321px;width:80px;line-height:15px">1050</div>
<div class="c" style="left:497.80px;top:321px;width:80px;line-height:15px;letter-spacing:0.2px">37–4</div>
<div class="c" style="left:567.23px;top:321px;width:80px;line-height:15px;letter-spacing:0.05px">13320–32100</div>
<div class="c" style="left:636.08px;top:321px;width:80px;line-height:15px;letter-spacing:0.15px">2640–1810</div>
<div class="b g" style="left:433px;top:335px;width:69px;height:28px"></div>
<div class="c" style="left:429.10px;top:343px;width:80px;line-height:15px">1130</div>
<div class="c" style="left:497.80px;top:335px;width:80px;line-height:15px;letter-spacing:0.2px">30–4</div>
<div class="c" style="left:567.23px;top:335px;width:80px;line-height:15px;letter-spacing:0.05px">14330–22560</div>
<div class="c" style="left:636.08px;top:335px;width:80px;line-height:15px;letter-spacing:0.15px">3060–2820</div>
<div class="c" style="left:497.80px;top:349px;width:80px;line-height:15px;letter-spacing:0.2px">45–4</div>
<div class="c" style="left:567.23px;top:349px;width:80px;line-height:15px;letter-spacing:0.05px">25620–34550</div>
<div class="c" style="left:636.08px;top:349px;width:80px;line-height:15px;letter-spacing:0.15px">2680–2100</div>
<div class="c" style="left:429.10px;top:371px;width:80px;line-height:15px">1200</div>
<div class="c" style="left:497.80px;top:363px;width:80px;line-height:15px;letter-spacing:0.2px">37–4</div>
<div class="c" style="left:567.23px;top:363px;width:80px;line-height:15px;letter-spacing:0.05px">15220–23960</div>
<div class="c" style="left:636.08px;top:363px;width:80px;line-height:15px;letter-spacing:0.15px">3450–3180</div>
<div class="c" style="left:497.80px;top:377px;width:80px;line-height:15px;letter-spacing:0.2px">55–4</div>
<div class="c" style="left:567.23px;top:377px;width:80px;line-height:15px;letter-spacing:0.05px">27210–36690</div>
<div class="c" style="left:636.08px;top:377px;width:80px;line-height:15px;letter-spacing:0.15px">3020–2360</div>
<div class="b g" style="left:433px;top:391px;width:69px;height:28px"></div>
<div class="c" style="left:429.10px;top:399px;width:80px;line-height:15px">1330</div>
<div class="c" style="left:567.23px;top:391px;width:80px;line-height:15px;letter-spacing:0.05px">16870–26560</div>
<div class="c" style="left:636.08px;top:391px;width:80px;line-height:15px;letter-spacing:0.15px">4240–3910</div>
<div class="c" style="left:567.23px;top:405px;width:80px;line-height:15px;letter-spacing:0.05px">30150–40660</div>
<div class="c" style="left:636.08px;top:405px;width:80px;line-height:15px;letter-spacing:0.15px">3720–2710</div>
<div class="c" style="left:429.10px;top:427px;width:80px;line-height:15px">1430</div>
<div class="c" style="left:567.23px;top:419px;width:80px;line-height:15px;letter-spacing:0.05px">18140–28550</div>
<div class="c" style="left:636.08px;top:419px;width:80px;line-height:15px;letter-spacing:0.15px">4900–4520</div>
<div class="c" style="left:567.23px;top:433px;width:80px;line-height:15px;letter-spacing:0.05px">32420–43720</div>
<div class="c" style="left:636.08px;top:433px;width:80px;line-height:15px;letter-spacing:0.15px">4300–3360</div>
<div class="c" style="left:359.40px;top:448px;width:80px;height:183px;line-height:186.6px">12.5</div>
<div class="b g" style="left:433px;top:448px;width:69px;height:28px"></div>
<div class="c" style="left:429.10px;top:456px;width:80px;line-height:15px">910</div>
<div class="c" style="left:567.23px;top:448px;width:80px;line-height:15px;letter-spacing:0.05px">16570–26090</div>
<div class="c" style="left:636.08px;top:448px;width:80px;line-height:15px;letter-spacing:0.15px">2640–2430</div>
<div class="c" style="left:567.23px;top:462px;width:80px;line-height:15px;letter-spacing:0.05px">29630–39950</div>
<div class="c" style="left:636.08px;top:462px;width:80px;line-height:15px;letter-spacing:0.15px">2310–1810</div>
<div class="c" style="left:429.10px;top:483px;width:80px;line-height:15px">1000</div>
<div class="c" style="left:567.23px;top:476px;width:80px;line-height:15px;letter-spacing:0.05px">17630–27760</div>
<div class="c" style="left:636.08px;top:476px;width:80px;line-height:15px;letter-spacing:0.15px">2990–2750</div>
<div class="c" style="left:567.23px;top:490px;width:80px;line-height:15px;letter-spacing:0.05px">31520–42500</div>
<div class="c" style="left:636.08px;top:490px;width:80px;line-height:15px;letter-spacing:0.15px">2620–2050</div>
<div class="b g" style="left:433px;top:504px;width:69px;height:28px"></div>
<div class="c" style="left:429.10px;top:512px;width:80px;line-height:15px">1110</div>
<div class="c" style="left:567.23px;top:504px;width:80px;line-height:15px;letter-spacing:0.05px">19570–30810</div>
<div class="c" style="left:636.08px;top:504px;width:80px;line-height:15px;letter-spacing:0.15px">3680–3390</div>
<div class="c" style="left:567.23px;top:518px;width:80px;line-height:15px;letter-spacing:0.05px">34980–47180</div>
<div class="c" style="left:636.08px;top:518px;width:80px;line-height:15px;letter-spacing:0.15px">3220–2520</div>
<div class="c" style="left:429.10px;top:540px;width:80px;line-height:15px">1200</div>
<div class="c" style="left:567.23px;top:532px;width:80px;line-height:15px;letter-spacing:0.05px">21160–33310</div>
<div class="c" style="left:636.08px;top:532px;width:80px;line-height:15px;letter-spacing:0.15px">4300–3970</div>
<div class="c" style="left:567.23px;top:546px;width:80px;line-height:15px;letter-spacing:0.05px">37820–51010</div>
<div class="c" style="left:636.08px;top:546px;width:80px;line-height:15px;letter-spacing:0.15px">3770–2950</div>
<div class="b g" style="left:433px;top:561px;width:69px;height:28px"></div>
<div class="c" style="left:429.10px;top:569px;width:80px;line-height:15px">1275</div>
<div class="c" style="left:567.23px;top:560px;width:80px;line-height:15px;letter-spacing:0.05px">22480–35390</div>
<div class="c" style="left:636.08px;top:560px;width:80px;line-height:15px;letter-spacing:0.15px">4850–4480</div>
<div class="c" style="left:567.23px;top:574px;width:80px;line-height:15px;letter-spacing:0.05px">40180–54190</div>
<div class="c" style="left:636.08px;top:574px;width:80px;line-height:15px;letter-spacing:0.15px">4250–3330</div>
<div class="c" style="left:429.10px;top:597px;width:80px;line-height:15px">1360</div>
<div class="c" style="left:567.23px;top:589px;width:80px;line-height:15px;letter-spacing:0.05px">23980–37750</div>
<div class="c" style="left:636.08px;top:589px;width:80px;line-height:15px;letter-spacing:0.15px">5520–5100</div>
<div class="c" style="left:567.23px;top:603px;width:80px;line-height:15px;letter-spacing:0.05px">42860–57810</div>
<div class="c" style="left:636.08px;top:603px;width:80px;line-height:15px;letter-spacing:0.15px">4840–3780</div>
<div class="b g" style="left:433px;top:617px;width:69px;height:14px"></div>
<div class="hl" style="left:502px;top:94px;width:209px"></div>
<div class="hl" style="left:502px;top:108px;width:209px"></div>
<div class="hl" style="left:502px;top:123px;width:209px"></div>
<div class="hl" style="left:502px;top:137px;width:209px"></div>
<div class="hl" style="left:502px;top:151px;width:209px"></div>
<div class="hl" style="left:502px;top:165px;width:209px"></div>
<div class="hl" style="left:502px;top:179px;width:209px"></div>
<div class="hl" style="left:502px;top:193px;width:209px"></div>
<div class="hl" style="left:502px;top:207px;width:209px"></div>
<div class="hl" style="left:502px;top:222px;width:209px"></div>
<div class="hl" style="left:502px;top:236px;width:209px"></div>
<div class="hl" style="left:502px;top:250px;width:209px"></div>
<div class="hl" style="left:502px;top:264px;width:209px"></div>
<div class="hl" style="left:502px;top:278px;width:209px"></div>
<div class="hl" style="left:502px;top:292px;width:209px"></div>
<div class="hl" style="left:502px;top:306px;width:209px"></div>
<div class="hl" style="left:502px;top:320px;width:209px"></div>
<div class="hl" style="left:502px;top:335px;width:209px"></div>
<div class="hl" style="left:502px;top:349px;width:209px"></div>
<div class="hl" style="left:502px;top:363px;width:209px"></div>
<div class="hl" style="left:502px;top:377px;width:209px"></div>
<div class="hl" style="left:502px;top:391px;width:209px"></div>
<div class="hl" style="left:502px;top:405px;width:209px"></div>
<div class="hl" style="left:502px;top:419px;width:209px"></div>
<div class="hl" style="left:502px;top:434px;width:209px"></div>
<div class="hl" style="left:502px;top:448px;width:209px"></div>
<div class="hl" style="left:502px;top:462px;width:209px"></div>
<div class="hl" style="left:502px;top:476px;width:209px"></div>
<div class="hl" style="left:502px;top:490px;width:209px"></div>
<div class="hl" style="left:502px;top:504px;width:209px"></div>
<div class="hl" style="left:502px;top:518px;width:209px"></div>
<div class="hl" style="left:502px;top:532px;width:209px"></div>
<div class="hl" style="left:502px;top:547px;width:209px"></div>
<div class="hl" style="left:502px;top:561px;width:209px"></div>
<div class="hl" style="left:502px;top:575px;width:209px"></div>
<div class="hl" style="left:502px;top:589px;width:209px"></div>
<div class="hl" style="left:502px;top:603px;width:209px"></div>
<div class="hl" style="left:502px;top:617px;width:209px"></div>
<div class="hl" style="left:433px;top:108px;width:69px"></div>
<div class="hl" style="left:433px;top:137px;width:69px"></div>
<div class="hl" style="left:433px;top:165px;width:69px"></div>
<div class="hl" style="left:433px;top:179px;width:69px"></div>
<div class="hl" style="left:433px;top:193px;width:69px"></div>
<div class="hl" style="left:433px;top:222px;width:69px"></div>
<div class="hl" style="left:433px;top:250px;width:69px"></div>
<div class="hl" style="left:433px;top:278px;width:69px"></div>
<div class="hl" style="left:433px;top:306px;width:69px"></div>
<div class="hl" style="left:433px;top:320px;width:69px"></div>
<div class="hl" style="left:433px;top:335px;width:69px"></div>
<div class="hl" style="left:433px;top:363px;width:69px"></div>
<div class="hl" style="left:433px;top:391px;width:69px"></div>
<div class="hl" style="left:433px;top:419px;width:69px"></div>
<div class="hl" style="left:433px;top:448px;width:69px"></div>
<div class="hl" style="left:433px;top:476px;width:69px"></div>
<div class="hl" style="left:433px;top:504px;width:69px"></div>
<div class="hl" style="left:433px;top:532px;width:69px"></div>
<div class="hl" style="left:433px;top:561px;width:69px"></div>
<div class="hl" style="left:433px;top:589px;width:69px"></div>
<div class="hl" style="left:433px;top:617px;width:69px"></div>
<div class="hl" style="left:365px;top:165px;width:68px"></div>
<div class="hl" style="left:365px;top:306px;width:68px"></div>
<div class="hl" style="left:365px;top:448px;width:68px"></div>
<div class="hl" style="left:365px;top:630px;width:346px;opacity:.7"></div>
<div class="v" style="left:433px;top:80px;height:551px"></div>
<div class="v" style="left:502px;top:80px;height:551px"></div>
<div class="v" style="left:572px;top:80px;height:551px"></div>
<div class="v" style="left:641px;top:80px;height:551px"></div>
<div class="v" style="left:364px;top:80px;height:551px;opacity:.6"></div>
<div class="v" style="left:710px;top:80px;height:551px;opacity:.6"></div>
<div class="s" style="left:503px;width:69px;top:393.00px;line-height:12px">55–4</div>
<div class="s" style="left:503px;width:69px;top:405.51px;line-height:12px">75–4</div>
<div class="s" style="left:503px;width:69px;top:418.02px;line-height:12px">75–4</div>
<div class="s" style="left:503px;width:69px;top:430.53px;line-height:12px">90–4</div>
<div class="s" style="left:503px;width:69px;top:443.04px;line-height:12px">37–4</div>
<div class="s" style="left:503px;width:69px;top:455.55px;line-height:12px">45–4</div>
<div class="s" style="left:503px;width:69px;top:468.06px;line-height:12px">45–4</div>
<div class="s" style="left:503px;width:69px;top:480.57px;line-height:12px">55–4</div>
<div class="s" style="left:503px;width:69px;top:493.08px;line-height:12px">55–4</div>
<div class="s" style="left:503px;width:69px;top:505.59px;line-height:12px">75–4</div>
<div class="s" style="left:503px;width:69px;top:518.10px;line-height:12px">75–4</div>
<div class="s" style="left:503px;width:69px;top:530.61px;line-height:12px">90–4</div>
<div class="s" style="left:503px;width:69px;top:543.12px;line-height:12px">90–4</div>
<div class="s" style="left:503px;width:69px;top:555.63px;line-height:12px">110–4</div>
<div class="s" style="left:503px;width:69px;top:568.14px;line-height:12px">110–4</div>
<div class="s" style="left:503px;width:69px;top:580.65px;line-height:12px">132–4</div>
</div></body></html>
